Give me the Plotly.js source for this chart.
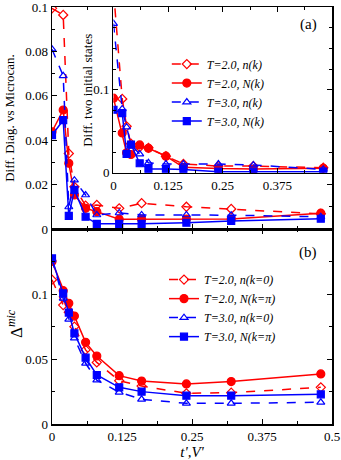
<!DOCTYPE html>
<html>
<head>
<meta charset="utf-8">
<script src="https://cdn.plot.ly/plotly-3.0.1.min.js"></script>
<style>
  html, body { margin: 0; padding: 0; background: #fff; }
  #chart { width: 341px; height: 460px; }
</style>
</head>
<body>
<div id="chart"></div>
<script>
// t', V' values (shared by every series)
const tVals = [0, 0.02, 0.03, 0.04, 0.06, 0.08, 0.12, 0.16, 0.24, 0.32, 0.48];

// (a) diff. diagonal vs microcanonical
const diagT2n = [0.0994, 0.0964, 0.034, 0.019, 0.0105, 0.0108, 0.0093, 0.0116, 0.0100, 0.0090, 0.0068];
const diagT2N = [0.0438, 0.0536, 0.0296, 0.0153, 0.0093, 0.0078, 0.0044, 0.0044, 0.0045, 0.0045, 0.0071];
const diagT3n = [0.0810, 0.0690, 0.0099, 0.0220, 0.0153, 0.0063, 0.0072, 0.0063, 0.0063, 0.0062, 0.0055];
const diagT3N = [0.0423, 0.0490, 0.0059, 0.0176, 0.0055, 0.0023, 0.0023, 0.0023, 0.0028, 0.0036, 0.0046];

// (a) inset: diff. two initial states
const initT2n = [0.22, 0.089, 0.056, 0.035, 0.031, 0.030, 0.020, 0.0105, 0.008, 0.008, 0.006];
const initT2N = [0.090, 0.048, 0.024, 0.022, 0.0335, 0.0295, 0.020, 0.0065, 0.005, 0.0045, 0.0053];
const initT3n = [0.180, 0.077, 0.055, 0.034, 0.0225, 0.012, 0.0105, 0.0105, 0.0105, 0.0093, 0.004];
const initT3N = [0.076, 0.072, 0.0226, 0.034, 0.0114, 0.0045, 0.0045, 0.004, 0.0013, 0.0012, 0.0012];

// (b) Delta^mic
const micT2n = [0.111, 0.0915, 0.086, 0.0749, 0.057, 0.0474, 0.0333, 0.0292, 0.0236, 0.0241, 0.0282];
const micT2N = [0.125, 0.1026, 0.0928, 0.083, 0.0628, 0.0523, 0.0372, 0.033, 0.0308, 0.0326, 0.0385];
const micT3n = [0.1267, 0.0967, 0.0805, 0.066, 0.0467, 0.0338, 0.0244, 0.019, 0.0159, 0.0159, 0.0167];
const micT3N = [0.1274, 0.1005, 0.0857, 0.0697, 0.051, 0.0377, 0.0282, 0.0249, 0.0218, 0.0218, 0.0228];

const namesA = ['T=2.0, n(k)', 'T=2.0, N(k)', 'T=3.0, n(k)', 'T=3.0, N(k)'];
const namesB = ['T=2.0, n(k=0)', 'T=2.0, N(k=\u03c0)', 'T=3.0, n(k=0)', 'T=3.0, N(k=\u03c0)'];

const RED = '#ff0000';
const BLUE = '#0000ff';
const FONT = 'Liberation Serif';

// style per series: T=2 n, T=2 N, T=3 n, T=3 N
const styles = [
    { color: RED,  dash: 'dash',  symbol: 'diamond-open',     size: 7 },
    { color: RED,  dash: 'solid', symbol: 'circle',           size: 8 },
    { color: BLUE, dash: 'dash',  symbol: 'triangle-up-open', size: 7 },
    { color: BLUE, dash: 'solid', symbol: 'square',           size: 7 }
];

function makeTrace(y, i, xa, ya, name, legend) {
    const s = styles[i];
    return {
        x: tVals,
        y: y,
        xaxis: xa,
        yaxis: ya,
        type: 'scatter',
        mode: 'lines+markers',
        name: name ? '<i>' + name + '</i>' : '',
        showlegend: !!name,
        legend: legend || 'legend',
        line: { color: s.color, width: 1.5, dash: s.dash },
        marker: { color: s.color, symbol: s.symbol, size: s.size, line: { color: s.color, width: 1.2 } }
    };
}

const data = [];
[diagT2n, diagT2N, diagT3n, diagT3N].forEach((y, i) => data.push(makeTrace(y, i, 'x2', 'y2', namesA[i], 'legend')));
[initT2n, initT2N, initT3n, initT3N].forEach((y, i) => data.push(makeTrace(y, i, 'x3', 'y3', null)));
[micT2n, micT2N, micT3n, micT3N].forEach((y, i) => data.push(makeTrace(y, i, 'x', 'y', namesB[i], 'legend2')));

const splitY = 0.4676;

// common axis look: black frame, ticks inside on all sides
function axisBase(extra) {
    return Object.assign({
        showline: true,
        linecolor: '#000',
        linewidth: 1.5,
        mirror: 'ticks',
        ticks: 'inside',
        ticklen: 5,
        tickwidth: 1,
        tickcolor: '#000',
        showgrid: false,
        zeroline: false,
        ticklabeloverflow: 'allow',
        tickfont: { family: FONT, size: 13, color: '#000' }
    }, extra);
}

function minorTicks(step) {
    return { tickmode: 'linear', tick0: 0, dtick: step, ticks: 'inside', ticklen: 3, tickcolor: '#000' };
}

function textNote(text, x, y, size, angle) {
    return { text: text, xref: 'paper', yref: 'paper', x: x, y: y, showarrow: false,
             xanchor: 'center', yanchor: 'middle',
             textangle: angle || 0, font: { family: FONT, size: size, color: '#000' } };
}

const layout = {
    width: 341,
    height: 460,
    margin: { l: 52, r: 9, t: 7, b: 36 },
    paper_bgcolor: '#fff',
    plot_bgcolor: '#fff',
    font: { family: FONT, color: '#000' },
    xaxis: axisBase({
        domain: [0, 1], anchor: 'y', range: [0, 0.5],
        tickvals: [0, 0.125, 0.25, 0.375, 0.5],
        ticktext: ['0', '0.125', '0.25', '0.375', '0.5'],
        minor: minorTicks(0.0625),
        title: { text: "<i>t',V'</i>", font: { family: FONT, size: 15 }, standoff: 1 }
    }),
    yaxis: axisBase({
        domain: [0, splitY], anchor: 'x', range: [0, 0.15],
        tickvals: [0, 0.05, 0.1],
        ticktext: ['0', '0.05', '0.1'],
        minor: minorTicks(0.025)
    }),
    xaxis2: axisBase({
        domain: [0, 1], anchor: 'y2', range: [0, 0.5],
        tickvals: [0.125, 0.25, 0.375],
        showticklabels: false,
        minor: minorTicks(0.0625)
    }),
    yaxis2: axisBase({
        domain: [splitY, 1], anchor: 'x2', range: [-0.00002, 0.1],
        tickvals: [0, 0.02, 0.04, 0.06, 0.08, 0.1],
        ticktext: ['0', '0.02', '0.04', '0.06', '0.08', '0.1'],
        minor: minorTicks(0.01),
        title: { text: 'Diff. Diag. vs Microcan.', font: { family: FONT, size: 13 }, standoff: 7 }
    }),
    xaxis3: axisBase({
        domain: [0.2196, 1], anchor: 'y3', range: [0, 0.5],
        tickvals: [0, 0.125, 0.25, 0.375],
        ticktext: ['0', '0.125', '0.25', '0.375'],
        minor: minorTicks(0.0625)
    }),
    yaxis3: axisBase({
        domain: [0.6026, 1], anchor: 'x3', range: [0, 0.2],
        tickvals: [0, 0.1],
        ticktext: ['0', '0.1'],
        minor: minorTicks(0.025)
    }),
    legend: {
        x: 0.41, y: 0.898, xanchor: 'left', yanchor: 'top',
        bgcolor: 'rgba(0,0,0,0)',
        font: { family: FONT, size: 12, color: '#000' },
        itemwidth: 30,
        tracegroupgap: 0
    },
    legend2: {
        x: 0.40, y: 0.381, xanchor: 'left', yanchor: 'top',
        bgcolor: 'rgba(0,0,0,0)',
        font: { family: FONT, size: 12, color: '#000' },
        itemwidth: 30,
        tracegroupgap: 0
    },
    annotations: [
        textNote('(a)', 0.915, 0.958, 15),
        textNote('(b)', 0.915, 0.412, 15),
        textNote('Diff. two initial states', 0.128, 0.801, 13, -90),
        textNote('\u0394<sup><i>mic</i></sup>', -0.132, 0.24, 17, -90)
    ]
};

Plotly.newPlot('chart', data, layout, { displayModeBar: false, staticPlot: true });
</script>
</body>
</html>
